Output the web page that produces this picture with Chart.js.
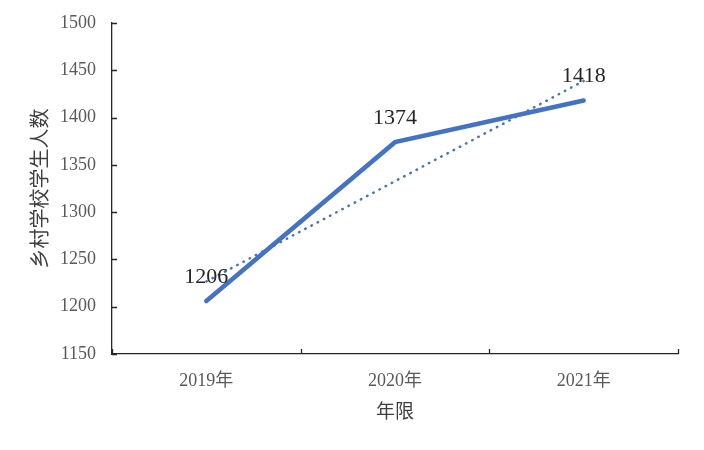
<!DOCTYPE html>
<html>
<head>
<meta charset="utf-8">
<script src="https://cdn.jsdelivr.net/npm/chart.js@4.4.0/dist/chart.umd.min.js"></script>
<style>
  html, body { margin: 0; padding: 0; background: #fff; }
  #wrap { width: 704px; height: 450px; }
</style>
</head>
<body>
<div id="wrap"><canvas id="c"></canvas></div>
<script>
var years = ["2019年", "2020年", "2021年"];
var students = [1206, 1374, 1418];
var trend = [1226.7, 1332.7, 1438.7];
var yTicks = [1150, 1200, 1250, 1300, 1350, 1400, 1450, 1500];

var blue = '#4472C4';
var serif = '"Liberation Serif", "Times New Roman", "Noto Sans CJK SC", serif';

// inner tick marks, like the office chart
var innerTicks = {
    id: 'innerTicks',
    afterDraw: function (chart) {
        var c = chart.ctx, a = chart.chartArea;
        var xs = chart.scales.x, ys = chart.scales.y;
        c.save();
        c.strokeStyle = '#262626';
        c.lineWidth = 1.3;
        c.beginPath();
        yTicks.forEach(function (v) {
            var y = Math.round(ys.getPixelForValue(v)) + 0.5;
            c.moveTo(a.left, y);
            c.lineTo(a.left + 5, y);
        });
        for (var i = 0; i <= years.length; i++) {
            var x = Math.round(xs.getPixelForValue(i - 0.5)) + 0.5;
            c.moveTo(x, a.bottom);
            c.lineTo(x, a.bottom - 5);
        }
        c.stroke();
        c.restore();
    }
};

// value labels over the points
var valueLabels = {
    id: 'valueLabels',
    afterDatasetsDraw: function (chart) {
        var c = chart.ctx;
        var meta = chart.getDatasetMeta(0);
        c.save();
        c.font = '22px ' + serif;
        c.fillStyle = '#262626';
        c.textAlign = 'center';
        c.textBaseline = 'middle';
        meta.data.forEach(function (pt, i) {
            c.fillText(String(students[i]), pt.x, pt.y - 24);
        });
        c.restore();
    }
};

new Chart(document.getElementById('c'), {
    type: 'line',
    data: {
        labels: years,
        datasets: [{
            label: '乡村学校学生人数',
            data: students,
            borderColor: blue,
            borderWidth: 4.5,
            borderCapStyle: 'round',
            pointRadius: 0,
            tension: 0
        }, {
            label: '线性',
            data: trend,
            borderColor: blue,
            borderWidth: 2.5,
            borderDash: [0.5, 6.5],
            borderCapStyle: 'round',
            pointRadius: 0,
            tension: 0
        }]
    },
    options: {
        responsive: true,
        maintainAspectRatio: false,
        animation: false,
        layout: { padding: { top: 23, right: 26, left: 0, bottom: 0 } },
        plugins: { legend: { display: false }, tooltip: { enabled: false } },
        scales: {
            x: {
                offset: true,
                grid: { display: false, offset: true },
                border: { display: true, color: '#262626', width: 1.3 },
                ticks: { color: '#595959', font: { family: serif, size: 18 }, padding: 8 },
                title: { display: true, text: '年限', color: '#404040',
                    font: { family: '"Noto Sans CJK SC", sans-serif', size: 19 }, padding: { top: 0, bottom: 28 } },
                afterFit: function (s) { s.height = 96; }
            },
            y: {
                min: 1150,
                max: 1500,
                grid: { display: false },
                border: { display: true, color: '#262626', width: 1.3 },
                ticks: { stepSize: 50, color: '#595959', font: { family: serif, size: 18 }, padding: 8,
                    callback: function (v) { return String(v); } },
                title: { display: true, text: '乡村学校学生人数', color: '#404040',
                    font: { family: '"Noto Sans CJK SC", sans-serif', size: 20 }, padding: { top: 27, bottom: 0 } },
                afterFit: function (s) { s.width = 112; }
            }
        }
    },
    plugins: [innerTicks, valueLabels]
});
</script>
</body>
</html>
